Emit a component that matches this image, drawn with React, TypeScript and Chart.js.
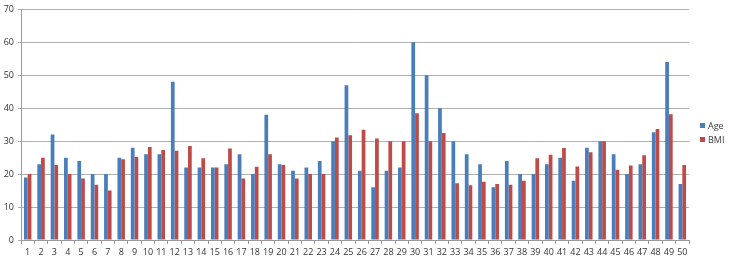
import React, { useEffect, useRef } from "react";
import { Chart, registerables } from "chart.js";

Chart.register(...registerables);

const categories: string[] = Array.from({ length: 50 }, (_, i) => String(i + 1));

const ageValues: number[] = [
  19, 23, 32, 25, 24, 20, 20, 25, 28, 26,
  26, 48, 22, 22, 22, 23, 26, 20, 38, 23,
  21, 22, 24, 30, 47, 21, 16, 21, 22, 60,
  50, 40, 30, 26, 23, 16, 24, 20, 20, 23,
  25, 18, 28, 30, 26, 20, 23, 32.7, 54, 17,
];

const bmiValues: number[] = [
  20, 25, 22.8, 20, 18.7, 16.8, 15, 24.5, 25.2, 28.2,
  27.3, 27.1, 28.5, 24.8, 22, 27.8, 18.7, 22.2, 26, 22.8,
  18.7, 20, 20, 31.1, 31.8, 33.5, 30.8, 30, 30, 38.5,
  30, 32.5, 17.2, 16.6, 17.7, 17, 16.8, 18, 24.8, 25.9,
  27.9, 22.3, 26.6, 30, 21.3, 22.6, 25.7, 33.7, 38.2, 22.8,
];

const seriesNames: string[] = ["Age", "BMI"];
const seriesColors: string[] = ["#4A7EBB", "#BE4B48"];
const yTicks: number[] = [0, 10, 20, 30, 40, 50, 60, 70];

const FONT = "'Open Sans', 'DejaVu Sans', sans-serif";

export default function App() {
  const ref = useRef<HTMLCanvasElement | null>(null);

  useEffect(() => {
    document.body.style.margin = "0";
    const canvas = ref.current;
    if (!canvas) return;

    const legendPlugin = {
      id: "customLegend",
      afterDraw(chart: any) {
        const ctx = chart.ctx;
        ctx.save();
        ctx.font = `9px ${FONT}`;
        ctx.textBaseline = "middle";
        ctx.textAlign = "left";
        seriesNames.forEach((name, i) => {
          const y = 126 + i * 14;
          ctx.fillStyle = seriesColors[i];
          ctx.fillRect(700, y - 3, 5, 5);
          ctx.fillStyle = "#404040";
          ctx.fillText(name, 708, y);
        });
        ctx.restore();
      },
    };

    const chart = new Chart(canvas, {
      type: "bar",
      data: {
        labels: categories,
        datasets: [
          {
            label: seriesNames[0],
            data: ageValues,
            backgroundColor: seriesColors[0],
            borderWidth: 0,
            barPercentage: 1,
            categoryPercentage: 0.56,
          },
          {
            label: seriesNames[1],
            data: bmiValues,
            backgroundColor: seriesColors[1],
            borderWidth: 0,
            barPercentage: 1,
            categoryPercentage: 0.56,
          },
        ],
      },
      options: {
        responsive: false,
        animation: false,
        devicePixelRatio: 1,
        layout: { padding: { top: 7, right: 41, left: 0, bottom: 0 } },
        plugins: {
          legend: { display: false },
          tooltip: { enabled: false },
        },
        scales: {
          x: {
            grid: {
              drawOnChartArea: false,
              drawTicks: true,
              tickLength: 4,
              color: "#9A9A9A",
              offset: true,
            },
            border: { display: true, color: "#9A9A9A", width: 1 },
            ticks: {
              color: "#333333",
              font: { family: FONT, size: 9 },
              padding: 3,
              maxRotation: 0,
              autoSkip: false,
            },
            afterFit: (scale: any) => {
              scale.height = 29;
            },
          },
          y: {
            min: 0,
            max: 70,
            afterBuildTicks: (scale: any) => {
              scale.ticks = yTicks.map((v) => ({ value: v }));
            },
            grid: {
              color: "#AFAFAF",
              lineWidth: 1,
              drawTicks: true,
              tickLength: 3,
            },
            border: { display: true, color: "#9A9A9A", width: 1 },
            ticks: {
              color: "#333333",
              font: { family: FONT, size: 9 },
              padding: 4,
            },
            afterFit: (scale: any) => {
              scale.width = 21;
            },
          },
        },
      },
      plugins: [legendPlugin],
    });

    return () => {
      chart.destroy();
    };
  }, []);

  return (
    <div style={{ width: 730, height: 269, background: "#ffffff" }}>
      <canvas ref={ref} width={730} height={269} />
    </div>
  );
}
